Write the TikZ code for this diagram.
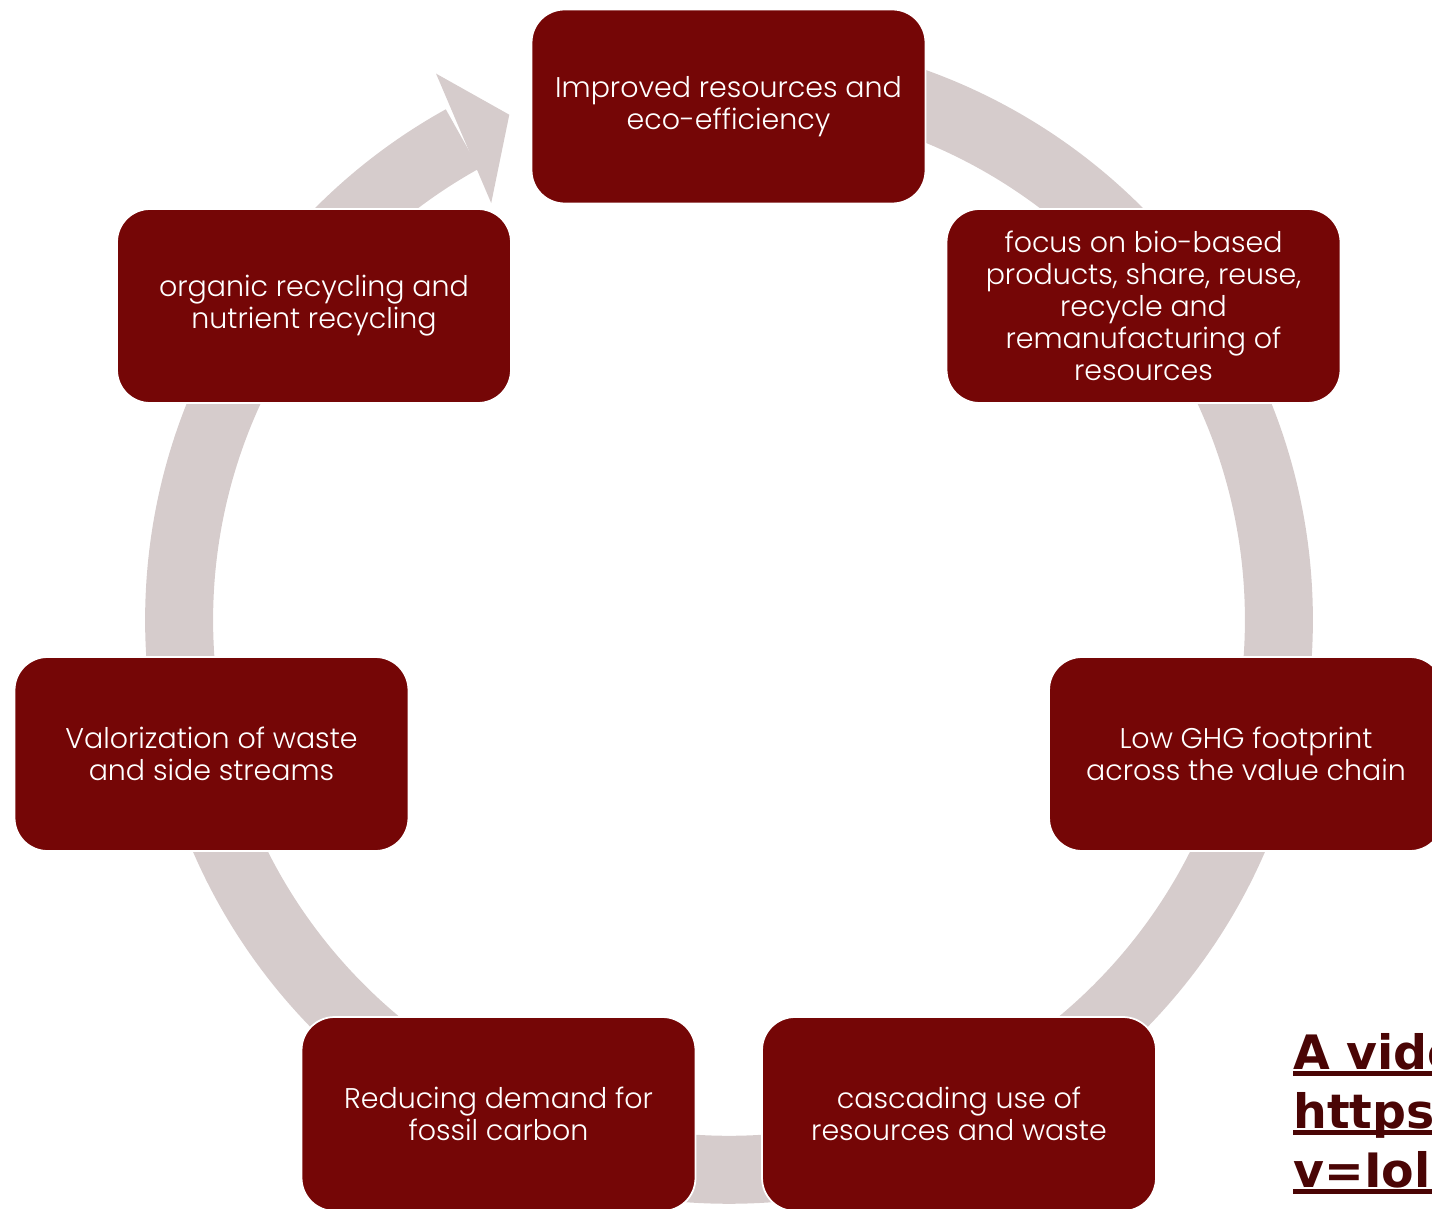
\documentclass[tikz,border=0pt]{standalone}
\usepackage{fontspec}
\setmainfont{Poppins Light}
\newfontfamily\linkfont{DejaVu Sans}
\usepackage{tikz}
\usetikzlibrary{positioning}
\definecolor{boxred}{HTML}{750606}
\definecolor{ringgray}{HTML}{D6CCCC}
\definecolor{linkred}{HTML}{4A0505}
\newcommand{\linkline}[1]{\rlap{\rule[-0.14cm]{8cm}{0.1cm}}#1}

\begin{document}
\begin{tikzpicture}[x=0.02cm, y=0.02cm,
    stage/.style={draw=white, line width=1pt, fill=boxred, text=white,
      rounded corners=0.66cm, minimum width=7.88cm, minimum height=3.88cm,
      align=center, font=\fontsize{16.2}{18.2}\selectfont}]
  \path[use as bounding box, clip] (0,0) rectangle (1432,1208);

  \coordinate (ring) at (729,588);
  \draw[ringgray, line width=1.36cm] (ring) ++(90:550) arc[start angle=90, end angle=-241, radius=11cm];
  \fill[ringgray] ([shift={(118.2:620)}]ring) -- ([shift={(113.5:551)}]ring)
    -- ([shift={(119.7:480)}]ring) -- cycle;

  \node[stage] (imp) at (728.5,1101.5) {Improved resources and\\eco-efficiency};
  \node[stage] (bio) at (1143.5,902) {focus on bio-based\\products, share, reuse,\\recycle and\\remanufacturing of\\resources};
  \node[stage] (ghg) at (1246,454) {Low GHG footprint\\across the value chain};
  \node[stage] (casc) at (959,94) {cascading use of\\resources and waste};
  \node[stage] (fossil) at (498.5,94) {Reducing demand for\\fossil carbon};
  \node[stage] (valor) at (211.5,454) {Valorization of waste\\and side streams};
  \node[stage] (organic) at (314,902) {organic recycling and\\nutrient recycling};

  \node[anchor=base west, align=left, inner sep=0pt, text=linkred,
    font=\linkfont\bfseries\fontsize{27}{33.5}\selectfont] (video) at (1293,21)
    {\linkline{A video}\\\linkline{https}\\\linkline{v=Iol}};
\end{tikzpicture}
\end{document}
